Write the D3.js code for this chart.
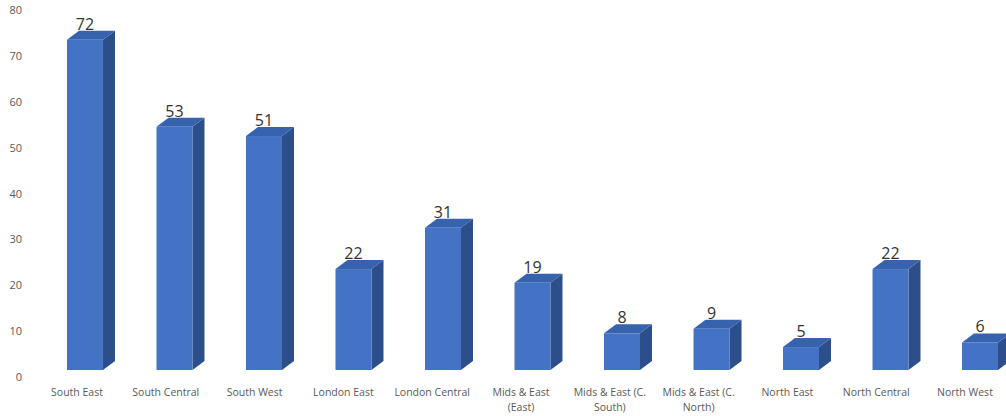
<!DOCTYPE html>
<html><head><meta charset="utf-8">
<script src="https://cdn.jsdelivr.net/npm/d3@7"></script>
<style>
html,body{margin:0;padding:0;background:#fff;}
svg{display:block;font-family:"Open Sans",sans-serif;}
</style></head>
<body><svg id="chart" width="1006" height="416"></svg>
<script>
const categories = ["South East","South Central","South West","London East","London Central","Mids & East (East)","Mids & East (C. South)","Mids & East (C. North)","North East","North Central","North West"];
const labelLines = [["South East"],["South Central"],["South West"],["London East"],["London Central"],["Mids & East","(East)"],["Mids & East (C.","South)"],["Mids & East (C.","North)"],["North East"],["North Central"],["North West"]];
const values = [72,53,51,22,31,19,8,9,5,22,6];
const yTicks = [0,10,20,30,40,50,60,70,80];

const svg = d3.select("#chart");
const depthX = 12, depthY = 9, floorShift = 7;

const y = d3.scaleLinear().domain([0,80]).range([377,10]);
const x = d3.scaleBand().domain(categories).range([67,998]).paddingInner(0.598).paddingOuter(0);
const xl = d3.scalePoint().domain(categories).range([77,965]);

// y axis labels
const yAxis = d3.axisLeft(y).tickValues(yTicks).tickSize(0).tickPadding(0);
const gy = svg.append("g").attr("transform","translate(22,0)").call(yAxis);
gy.select(".domain").remove();
gy.selectAll("text").attr("fill","#595959").style("font-size","11px").style("font-family","'Open Sans',sans-serif");

// bars
const bw = x.bandwidth();
const g = svg.append("g");
categories.forEach((c,i)=>{
  const v = values[i];
  const x0 = x(c), x1 = x0 + bw;
  const yt = y(v) - floorShift, yb = y(0) - floorShift;
  g.append("path").attr("d",`M${x1},${yt}L${x1+depthX},${yt-depthY}L${x1+depthX},${yb-depthY}L${x1},${yb}Z`).attr("fill","#2C4E8A");
  g.append("path").attr("d",`M${x0},${yt}L${x0+depthX},${yt-depthY}L${x1+depthX},${yt-depthY}L${x1},${yt}Z`).attr("fill","#3762AE");
  g.append("rect").attr("x",x0).attr("y",yt).attr("width",bw).attr("height",yb-yt).attr("fill","#4472C4");
  g.append("text").attr("x",x0+bw/2).attr("y",yt-10).attr("text-anchor","middle")
    .attr("fill","#333333").style("font-size","16px").text(v);
});

// category labels
const gx = svg.append("g");
categories.forEach((c,i)=>{
  const t = gx.append("text").attr("x",xl(c)).attr("y",396).attr("text-anchor","middle")
    .attr("fill","#595959").style("font-size","10.5px");
  labelLines[i].forEach((ln,j)=>{
    t.append("tspan").attr("x",xl(c)).attr("dy", j===0?0:15).text(ln);
  });
});
</script>
</body></html>
